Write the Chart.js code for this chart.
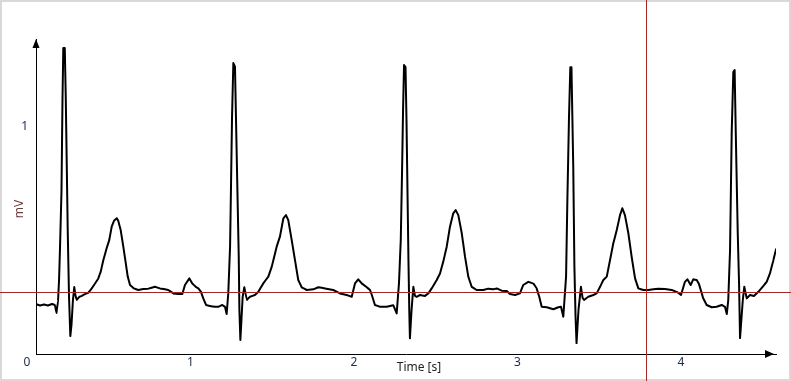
<!DOCTYPE html>
<html>
<head>
<meta charset="utf-8">
<script src="https://cdn.jsdelivr.net/npm/chart.js@4/dist/chart.umd.min.js"></script>
<style>
  html, body { margin: 0; padding: 0; background: #ffffff; }
  canvas { display: block; }
</style>
</head>
<body>
<canvas id="ecg" width="791" height="381"></canvas>
<script>
// ---- Data ----
const timeSec = [
  0.000,0.024,0.049,0.073,0.098,0.116,0.125,0.135,0.141,0.147,0.156,0.162,0.167,0.176,0.182,0.188,0.194,0.202,0.210,0.217,
  0.226,0.234,0.242,0.249,0.265,0.280,0.300,0.320,0.341,0.361,0.381,0.396,0.412,0.432,0.448,0.463,0.477,0.494,0.503,0.518,
  0.534,0.549,0.561,0.575,0.599,0.626,0.656,0.687,0.728,0.758,0.789,0.809,0.840,0.870,0.895,0.911,0.938,0.956,0.977,0.993,
  1.009,1.023,1.040,1.064,1.095,1.115,1.139,1.156,1.166,
  1.176,1.187,1.193,1.199,1.207,1.217,1.223,1.231,1.240,1.244,1.250,1.264,1.274,1.289,1.309,1.339,1.360,1.390,1.421,1.442,
  1.472,1.492,1.513,1.529,1.543,1.564,1.584,1.604,1.625,1.656,1.696,1.727,1.768,1.818,1.859,1.900,1.931,1.951,1.971,1.992,
  2.023,2.043,2.054,2.073,2.104,2.145,2.185,2.206,
  2.220,2.231,2.239,2.245,2.251,2.260,2.266,2.272,2.278,2.283,2.287,2.297,2.308,2.318,2.328,2.349,2.379,2.400,2.420,2.451,
  2.471,2.491,2.512,2.532,2.552,2.567,2.583,2.604,2.624,2.644,2.665,2.695,2.736,2.766,2.797,2.818,2.848,2.879,2.899,2.930,
  2.960,2.980,3.011,3.042,3.062,3.078,3.093,3.124,3.164,3.195,3.211,3.225,
  3.242,3.250,3.260,3.268,3.275,3.286,3.293,3.300,3.306,3.318,3.333,3.343,3.352,3.378,3.409,3.429,3.450,3.470,3.491,3.511,
  3.531,3.552,3.572,3.586,3.602,3.623,3.643,3.664,3.684,3.715,3.745,3.776,3.806,3.847,3.888,3.919,3.945,3.969,3.984,4.004,
  4.020,4.041,4.055,4.072,4.080,4.102,4.133,4.163,4.194,4.214,4.225,
  4.234,4.245,4.255,4.265,4.273,4.280,4.288,4.292,4.300,4.306,4.323,4.332,4.347,4.367,4.391,4.418,4.444,4.469,4.489,4.510,
  4.526
];
const voltageMv = [
  0.220,0.214,0.218,0.214,0.220,0.216,0.181,0.238,0.326,0.471,0.722,1.119,1.348,1.348,1.132,0.841,0.546,0.251,0.079,0.128,
  0.238,0.295,0.256,0.238,0.252,0.256,0.264,0.270,0.289,0.311,0.333,0.363,0.414,0.466,0.502,0.561,0.587,0.598,0.587,0.546,
  0.473,0.400,0.341,0.304,0.289,0.282,0.286,0.288,0.296,0.289,0.285,0.282,0.267,0.264,0.264,0.304,0.333,0.311,0.296,0.289,
  0.274,0.245,0.216,0.211,0.208,0.208,0.216,0.208,0.176,
  0.267,0.473,0.753,1.045,1.282,1.266,1.045,0.753,0.429,0.194,0.062,0.252,0.294,0.238,0.252,0.260,0.274,0.311,0.341,0.385,
  0.473,0.517,0.598,0.612,0.590,0.502,0.414,0.326,0.294,0.282,0.285,0.294,0.289,0.282,0.267,0.260,0.252,0.311,0.329,0.311,
  0.294,0.282,0.260,0.216,0.208,0.208,0.215,0.179,
  0.311,0.502,0.811,1.075,1.273,1.264,1.031,0.722,0.414,0.194,0.069,0.194,0.296,0.256,0.252,0.260,0.256,0.267,0.289,0.326,
  0.355,0.407,0.473,0.561,0.620,0.634,0.612,0.532,0.429,0.341,0.296,0.282,0.282,0.288,0.285,0.289,0.279,0.278,0.264,0.260,
  0.267,0.304,0.318,0.311,0.289,0.252,0.208,0.206,0.197,0.206,0.208,0.164,
  0.341,0.678,1.045,1.264,1.264,0.825,0.385,0.164,0.048,0.194,0.296,0.247,0.238,0.252,0.260,0.267,0.296,0.326,0.341,0.414,
  0.488,0.546,0.612,0.642,0.612,0.532,0.429,0.333,0.289,0.282,0.282,0.285,0.288,0.286,0.282,0.274,0.260,0.318,0.329,0.304,
  0.329,0.326,0.308,0.267,0.247,0.216,0.206,0.208,0.216,0.208,0.176,
  0.238,0.458,0.974,1.242,1.251,0.974,0.678,0.533,0.313,0.070,0.238,0.296,0.245,0.260,0.256,0.274,0.296,0.318,0.355,0.414,
  0.461
];
const xTickValues = [0, 1, 2, 3, 4];
const yTickValues = [1];
const xAxisTitle = 'Time [s]';
const yAxisTitle = 'mV';
const cursorTime = 3.728;   // vertical red cursor (s)
const cursorLevel = 0.273;  // horizontal red cursor (mV)
const xMin = 0, xMax = 4.526;
const yMin = 0, yMax = 1.388;

// ---- Chart ----
const points = timeSec.map((t, i) => ({ x: t, y: voltageMv[i] }));
const FONT = '"Noto Sans", "Open Sans", sans-serif';

const decorPlugin = {
  id: 'decor',
  beforeDraw(chart) {
    const ctx = chart.ctx;
    ctx.save();
    ctx.strokeStyle = '#d9d9d9';
    ctx.lineWidth = 2;
    ctx.strokeRect(1, 1, chart.width - 2, chart.height - 2);
    ctx.restore();
  },
  afterDraw(chart) {
    const ctx = chart.ctx;
    const a = chart.chartArea;
    const xs = chart.scales.x, ys = chart.scales.y;
    ctx.save();
    // arrow heads
    ctx.fillStyle = '#000';
    ctx.beginPath();
    ctx.moveTo(a.left, a.top);
    ctx.lineTo(a.left - 3.5, a.top + 9);
    ctx.lineTo(a.left + 3.5, a.top + 9);
    ctx.closePath();
    ctx.fill();
    ctx.beginPath();
    ctx.moveTo(a.right - 2, a.bottom);
    ctx.lineTo(a.right - 11, a.bottom - 4);
    ctx.lineTo(a.right - 11, a.bottom + 4);
    ctx.closePath();
    ctx.fill();
    // axis titles
    ctx.font = '12px ' + FONT;
    ctx.textAlign = 'center';
    ctx.textBaseline = 'middle';
    ctx.fillStyle = '#222222';
    ctx.fillText(xAxisTitle, 419, 368);
    ctx.save();
    ctx.translate(20, 209);
    ctx.rotate(-Math.PI / 2);
    ctx.fillStyle = '#7a3838';
    ctx.fillText(yAxisTitle, 0, 0);
    ctx.restore();
    // red cursors
    ctx.fillStyle = '#ff0000';
    const cx = Math.round(xs.getPixelForValue(cursorTime));
    const cy = Math.round(ys.getPixelForValue(cursorLevel));
    ctx.fillRect(0, cy, chart.width, 1);
    ctx.fillRect(cx, 0, 1, chart.height);
    ctx.restore();
  }
};

new Chart(document.getElementById('ecg'), {
  type: 'line',
  data: {
    datasets: [{
      data: points,
      borderColor: '#000000',
      borderWidth: 2,
      borderJoinStyle: 'round',
      borderCapStyle: 'round',
      pointRadius: 0,
      tension: 0.000001,
      fill: false
    }]
  },
  options: {
    responsive: false,
    animation: false,
    devicePixelRatio: 1,
    layout: { padding: { top: 39, right: 15, left: 0, bottom: 0 } },
    plugins: { legend: { display: false }, tooltip: { enabled: false }, title: { display: false } },
    scales: {
      x: {
        type: 'linear',
        min: xMin, max: xMax,
        grid: { display: false, drawTicks: false },
        border: { display: true, color: '#000000', width: 1 },
        ticks: {
          stepSize: 1,
          padding: 1,
          labelOffset: -9,
          maxRotation: 0,
          color: '#1c2b4a',
          font: { size: 12, family: FONT }
        },
        afterBuildTicks(scale) { scale.ticks = xTickValues.map(v => ({ value: v })); },
        afterFit(scale) { scale.height = 27; }
      },
      y: {
        type: 'linear',
        min: yMin, max: yMax,
        grid: { display: false, drawTicks: false },
        border: { display: true, color: '#000000', width: 1 },
        ticks: {
          stepSize: 1,
          padding: 8,
          color: '#1c2b4a',
          font: { size: 12, family: FONT }
        },
        afterBuildTicks(scale) { scale.ticks = yTickValues.map(v => ({ value: v })); },
        afterFit(scale) { scale.width = 36; }
      }
    }
  },
  plugins: [decorPlugin]
});
</script>
</body>
</html>
